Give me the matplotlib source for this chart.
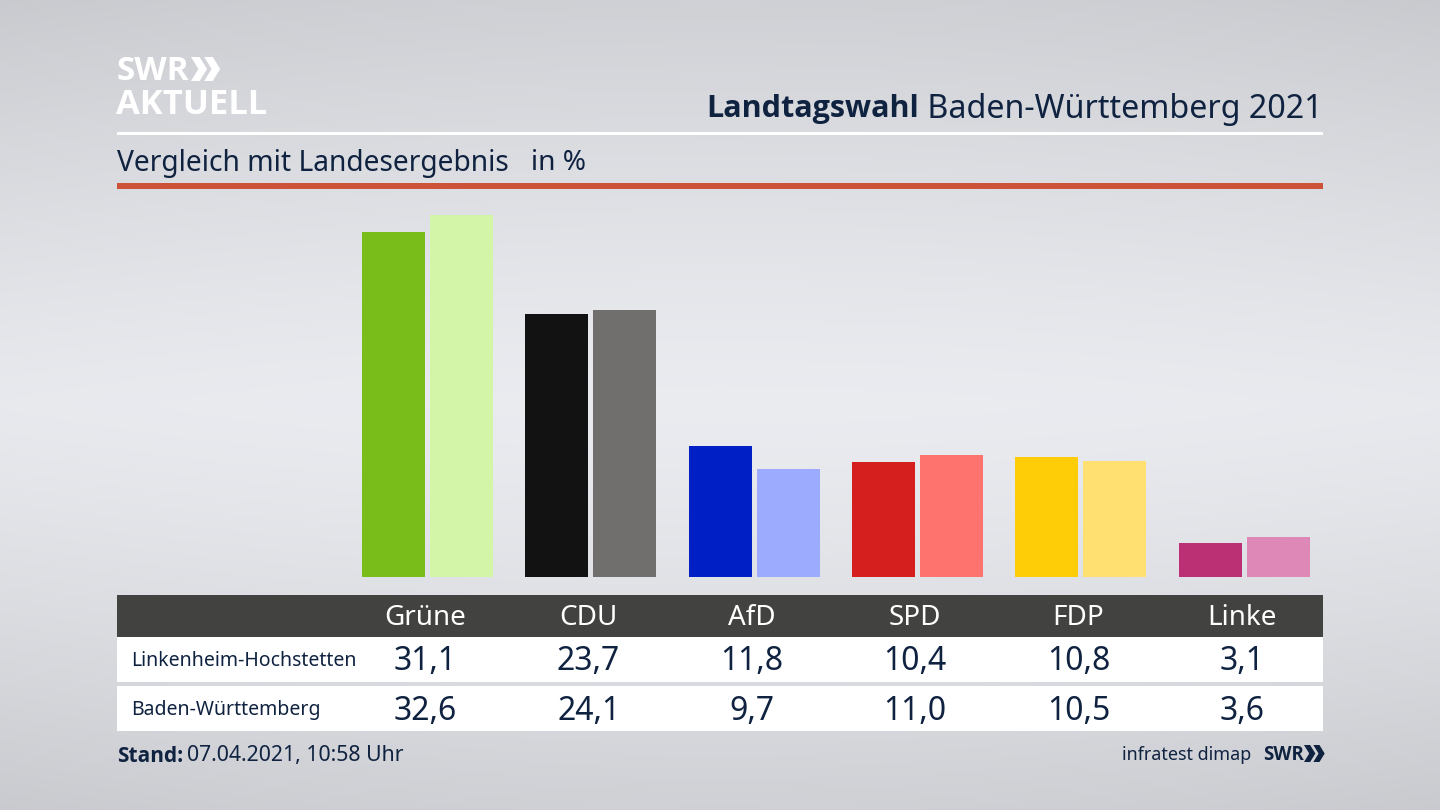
#!/usr/bin/env python3
"""Landtagswahl BW 2021: Linkenheim-Hochstetten vs. Landesergebnis."""

import matplotlib
matplotlib.use('Agg')
import matplotlib.pyplot as plt
from matplotlib.patches import Polygon, Rectangle
import numpy as np

plt.rcParams['font.family'] = ['Noto Sans', 'DejaVu Sans']

PARTIES = ['Grüne', 'CDU', 'AfD', 'SPD', 'FDP', 'Linke']
LOCAL_VALUES = [31.1, 23.7, 11.8, 10.4, 10.8, 3.1]
STATE_VALUES = [32.6, 24.1, 9.7, 11.0, 10.5, 3.6]
LOCAL_COLORS = ['#78bd1a', '#121212', '#001fc4', '#d51f1f', '#ffcc08', '#bb2f74']
STATE_COLORS = ['#d3f5a7', '#706f6d', '#9dabff', '#ff736e', '#ffe070', '#de88b7']
ROW_LABELS = ['Linkenheim-Hochstetten', 'Baden-Württemberg']

NAVY = '#0f2240'
BOLD = ['Open Sans', 'DejaVu Sans']
W, H = 1440, 810

fig = plt.figure(figsize=(14.4, 8.1), dpi=100)

# background gradient plus page overlay, both in pixel coords
page = fig.add_axes([0, 0, 1, 1])
page.set_xlim(0, W)
page.set_ylim(H, 0)
page.axis('off')
yy = np.abs(np.linspace(0, 1, 270) - 0.5) * 2
xx = np.abs(np.linspace(0, 1, 480) - 0.5) * 2
shade = 234 - 27 * yy[:, None] ** 1.3 - 6 * xx[None, :] ** 2 * (0.4 + 0.6 * yy[:, None])
bg = np.dstack([shade, shade + 1.5, shade + 6]).clip(0, 255) / 255
page.imshow(bg, extent=[0, W, H, 0], aspect='auto', zorder=0)

# header
page.add_patch(Rectangle((117, 132), 1206, 3, color='white', lw=0, zorder=1))
page.add_patch(Rectangle((117, 183), 1206, 6, color='#cc5238', lw=0, zorder=1))

page.text(117, 71, 'SWR', color='white', fontsize=24, fontweight='bold',
          family=BOLD, va='center', ha='left')
page.text(116, 105, 'AKTUELL', color='white', fontsize=24.8, fontweight='bold',
          family=BOLD, va='center', ha='left')


def chevrons(x, y, h, color):
    # the two arrows of the SWR logo
    w = h * 0.56
    t = h * 0.36
    for dx in (0, w * 0.98):
        pts = [(x + dx, y), (x + dx + t, y), (x + dx + w + t * 0.3, y + h / 2),
               (x + dx + t, y + h), (x + dx, y + h), (x + dx + w - t * 0.7, y + h / 2)]
        page.add_patch(Polygon(pts, closed=True, color=color, lw=0, zorder=2))


chevrons(191, 57, 24, 'white')

title_rest = page.text(1323, 109, ' Baden-Württemberg 2021', color=NAVY, fontsize=23.2,
                       va='center', ha='right')
fig.canvas.draw()
rest_w = title_rest.get_window_extent().width
page.text(1323 - rest_w, 109, 'Landtagswahl', color=NAVY, fontsize=22, fontweight='bold',
          family=BOLD, va='center', ha='right')

page.text(117, 163, 'Vergleich mit Landesergebnis', color=NAVY, fontsize=20.3, va='center', ha='left')
page.text(531, 163, 'in %', color=NAVY, fontsize=20.2, va='center', ha='left')

# bars, the local bar's right edge sits on the label centre
PX_X0, PX_STEP = 427.5, 163.3
PX_PER_UNIT = 11.09
TEXT_X0 = 425.3
left, right = 117, 1323
top, base = 200, 577
ax = fig.add_axes([left / W, 1 - base / H, (right - left) / W, (base - top) / H])
ax.set_xlim((left - PX_X0) / PX_STEP, (right - PX_X0) / PX_STEP)
ax.set_ylim(0, (base - top) / PX_PER_UNIT)
ax.axis('off')
ax.patch.set_alpha(0)

bar_w = 63 / PX_STEP
off = 34 / PX_STEP
x = np.arange(len(PARTIES))
ax.bar(x - off, LOCAL_VALUES, bar_w, color=LOCAL_COLORS, linewidth=0)
ax.bar(x + off, STATE_VALUES, bar_w, color=STATE_COLORS, linewidth=0)

# table
page.add_patch(Rectangle((117, 595), 1206, 42, color='#424240', lw=0, zorder=1))
page.add_patch(Rectangle((117, 637), 1206, 45, color='white', lw=0, zorder=1))
page.add_patch(Rectangle((117, 686), 1206, 45, color='white', lw=0, zorder=1))

for i, party in enumerate(PARTIES):
    cx = TEXT_X0 + PX_STEP * i
    page.text(cx, 618, party, color='white', fontsize=20, va='center', ha='center')
    page.text(cx, 662, f'{LOCAL_VALUES[i]:.1f}'.replace('.', ','), color=NAVY, fontsize=23,
              va='center', ha='center')
    page.text(cx, 711, f'{STATE_VALUES[i]:.1f}'.replace('.', ','), color=NAVY, fontsize=23,
              va='center', ha='center')

page.text(131, 661, ROW_LABELS[0], color=NAVY, fontsize=14, va='center', ha='left')
page.text(131, 710, ROW_LABELS[1], color=NAVY, fontsize=14, va='center', ha='left')

# footer
page.text(117, 756, 'Stand:', color=NAVY, fontsize=15, fontweight='bold', family=BOLD,
          va='center', ha='left')
page.text(187, 756, '07.04.2021, 10:58 Uhr', color=NAVY, fontsize=15.3, va='center', ha='left')
page.text(1251, 755, 'infratest dimap', color=NAVY, fontsize=12.9, va='center', ha='right')
page.text(1263, 755, 'SWR', color=NAVY, fontsize=13.5, fontweight='bold', family=BOLD,
          va='center', ha='left')
chevrons(1304, 745, 17, NAVY)

fig.savefig('out.png', dpi=100)
